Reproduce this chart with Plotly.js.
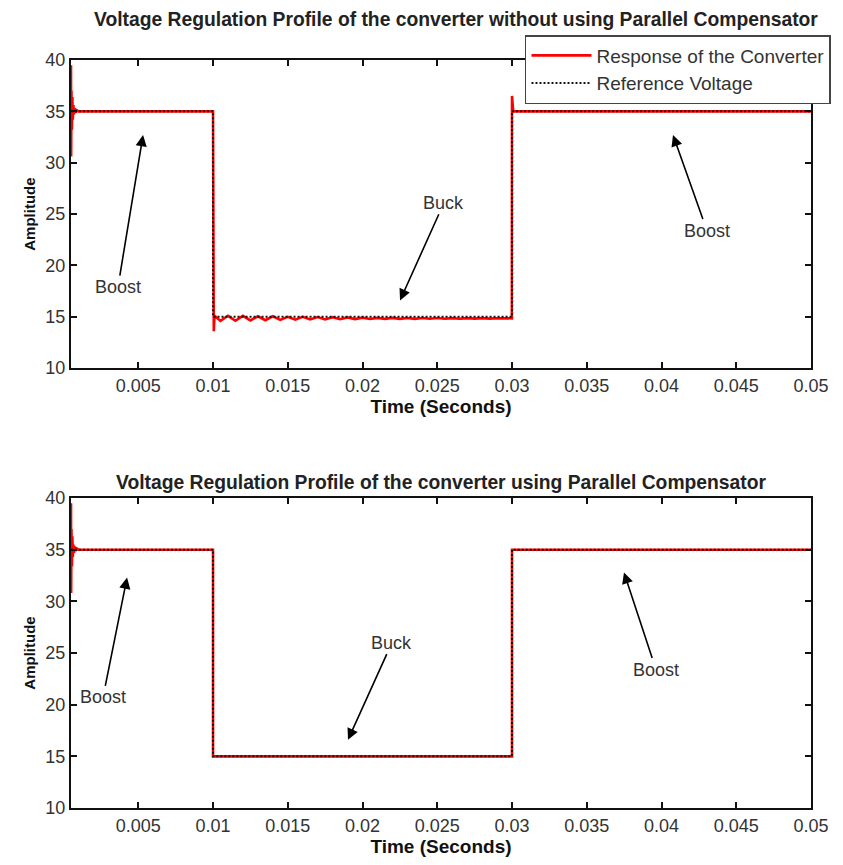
<!DOCTYPE html>
<html>
<head>
<meta charset="utf-8">
<script src="https://cdn.plot.ly/plotly-3.0.1.min.js"></script>
<style>html,body{margin:0;padding:0;background:#fff;}#chart{width:843px;height:865px;}</style>
</head>
<body>
<div id="chart"></div>
<script>
// ---- Data ----
const refTime = [0.0005, 0.01, 0.01, 0.03, 0.03, 0.05];
const refVolt = [35, 35, 15, 15, 35, 35];

// Top: converter without parallel compensator
const topTime = [0.0005, 0.00051, 0.00053, 0.00056, 0.00059, 0.00062, 0.00066, 0.0007, 0.00075, 0.00082, 0.0009, 0.001,
  0.01, 0.01001, 0.01005, 0.0101, 0.0105, 0.011, 0.0115, 0.012, 0.0125, 0.013, 0.0135, 0.014, 0.0145, 0.015,
  0.0155, 0.016, 0.0165, 0.017, 0.0175, 0.018, 0.0185, 0.019, 0.0195, 0.02, 0.0205, 0.021, 0.0215, 0.022,
  0.0225, 0.023, 0.0235, 0.024, 0.0245, 0.025, 0.0255, 0.026, 0.0265, 0.027, 0.0275, 0.028, 0.0285, 0.029,
  0.0295, 0.02999, 0.03, 0.03004, 0.03008, 0.0302, 0.05];
const topVolt = [39.5, 30.6, 37.0, 33.2, 36.4, 34.2, 35.6, 34.7, 35.3, 34.9, 35.1, 35.0,
  35.0, 15.0, 13.6, 15.1, 14.6, 15.1, 14.62, 15.1, 14.65, 15.05, 14.67, 15.05, 14.7, 15.0,
  14.72, 15.0, 14.74, 14.98, 14.75, 14.96, 14.77, 14.94, 14.78, 14.92, 14.79, 14.9, 14.8, 14.9,
  14.8, 14.88, 14.8, 14.88, 14.81, 14.88, 14.81, 14.87, 14.81, 14.87, 14.82, 14.87, 14.82, 14.86,
  14.82, 14.85, 36.5, 35.3, 35.0, 35.0, 35.0];

// Bottom: converter using parallel compensator
const botTime = [0.0005, 0.00051, 0.00053, 0.00056, 0.00059, 0.00062, 0.00066, 0.0007, 0.00075, 0.00082, 0.0009, 0.001,
  0.01, 0.01, 0.03, 0.03, 0.05];
const botVolt = [39.5, 30.8, 37.0, 33.4, 36.3, 34.3, 35.5, 34.7, 35.3, 34.9, 35.1, 35.0,
  35.0, 15.0, 15.0, 35.0, 35.0];

const xTickVals = [0.005, 0.01, 0.015, 0.02, 0.025, 0.03, 0.035, 0.04, 0.045, 0.05];
const xTickText = ["0.005", "0.01", "0.015", "0.02", "0.025", "0.03", "0.035", "0.04", "0.045", "0.05"];
const yTickVals = [10, 15, 20, 25, 30, 35, 40];
const yTickText = ["10", "15", "20", "25", "30", "35", "40"];

const titles = ["Voltage Regulation Profile of the converter without using Parallel Compensator",
                "Voltage Regulation Profile of the converter using Parallel Compensator"];
const seriesNames = ["Response of the Converter", "Reference Voltage"];

// annotation labels: [text, textX, textY, headX, headY]
const topNotes = [["Boost", 0.00364, 17.9, 0.00532, 32.7],
                  ["Buck", 0.02545, 26.1, 0.02251, 16.6],
                  ["Boost", 0.04304, 23.4, 0.04077, 32.7]];
const botNotes = [["Boost", 0.00264, 20.7, 0.00425, 32.3],
                  ["Buck", 0.02197, 26.0, 0.01903, 16.6],
                  ["Boost", 0.03963, 23.4, 0.03749, 32.8]];

// ---- Traces ----
const FONT = "Liberation Sans, Arial, sans-serif";
const red = {color: "rgb(255,0,0)", width: 2.6};
const dotted = {color: "rgb(20,20,20)", width: 2, dash: "2px,2px"};

const traces = [
  {x: topTime, y: topVolt, xaxis: "x", yaxis: "y", mode: "lines", line: red, name: seriesNames[0], showlegend: true},
  {x: refTime, y: refVolt, xaxis: "x", yaxis: "y", mode: "lines", line: dotted, name: seriesNames[1], showlegend: true},
  {x: botTime, y: botVolt, xaxis: "x2", yaxis: "y2", mode: "lines", line: red, name: seriesNames[0], showlegend: false},
  {x: refTime, y: refVolt, xaxis: "x2", yaxis: "y2", mode: "lines", line: dotted, name: seriesNames[1], showlegend: false}
];

function xAxis(domainAnchor) {
  return {
    range: [0.0005, 0.05], anchor: domainAnchor,
    tickvals: xTickVals, ticktext: xTickText,
    ticks: "inside", ticklen: 6, tickwidth: 2, tickcolor: "#111",
    showline: true, linecolor: "#111", linewidth: 2, mirror: "ticks",
    showgrid: false, zeroline: false,
    tickfont: {family: FONT, size: 18, color: "#333"},
    title: {text: "<b>Time (Seconds)</b>", font: {family: FONT, size: 19, color: "#111"}, standoff: 3}
  };
}
function yAxis(domain, anchor) {
  return {
    range: [10, 40], domain: domain, anchor: anchor,
    tickvals: yTickVals, ticktext: yTickText,
    ticks: "inside", ticklen: 6, tickwidth: 2, tickcolor: "#111",
    showline: true, linecolor: "#111", linewidth: 2, mirror: "ticks",
    showgrid: false, zeroline: false,
    tickfont: {family: FONT, size: 18, color: "#333"},
    title: {text: "<b>Amplitude</b>", font: {family: FONT, size: 15, color: "#111"}, standoff: 6}
  };
}

const annotations = [];
function addNotes(notes, xr, yr) {
  notes.forEach(n => {
    annotations.push({
      xref: xr, yref: yr, x: n[3], y: n[4], axref: xr, ayref: yr, ax: n[1], ay: n[2],
      text: n[0], showarrow: true, arrowhead: 2, arrowsize: 1.4, arrowwidth: 1.6, arrowcolor: "#000",
      font: {family: FONT, size: 18, color: "#333"}
    });
  });
}
addNotes(topNotes, "x", "y");
addNotes(botNotes, "x2", "y2");
annotations.push({xref: "paper", yref: "paper", x: 0.52, y: 1.071, text: "<b>" + titles[0] + "</b>",
  showarrow: false, font: {family: FONT, size: 19.3, color: "#222"}});
annotations.push({xref: "paper", yref: "paper", x: 0.5, y: 0.4358, text: "<b>" + titles[1] + "</b>",
  showarrow: false, font: {family: FONT, size: 19.3, color: "#222"}});

const layout = {
  width: 843, height: 865,
  margin: {l: 71, r: 32, t: 60, b: 57},
  paper_bgcolor: "#fff", plot_bgcolor: "#fff",
  showlegend: true,
  legend: {x: 0.6135, y: 1.0334, xanchor: "left", yanchor: "top",
    bgcolor: "#fff", bordercolor: "#444", borderwidth: 1.5,
    font: {family: FONT, size: 19, color: "#333"}, tracegroupgap: 0, itemwidth: 60},
  xaxis: xAxis("y"),
  yaxis: yAxis([0.588, 1], "x"),
  xaxis2: xAxis("y2"),
  yaxis2: yAxis([0, 0.4144], "x2"),
  annotations: annotations
};

Plotly.newPlot("chart", traces, layout, {displayModeBar: false, staticPlot: true});
</script>
</body>
</html>
